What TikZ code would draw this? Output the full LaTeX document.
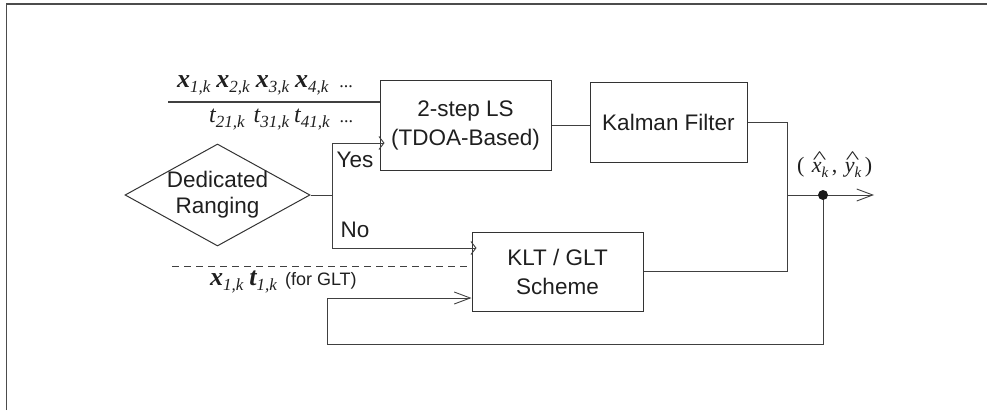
\documentclass[tikz,border=0pt]{standalone}
\usepackage{fontspec}
\setmainfont{Liberation Sans}
\newfontfamily\tms{Liberation Serif}
\usetikzlibrary{arrows.meta,shapes.geometric}
\newcommand{\bsym}[2]{{\tms\bfseries\itshape\fontsize{26}{26}\selectfont #1}\raisebox{-5pt}{\tms\itshape\fontsize{17}{17}\selectfont #2}}
\newcommand{\rsym}[2]{{\tms\itshape\fontsize{24}{24}\selectfont #1}\raisebox{-5pt}{\tms\itshape\fontsize{17}{17}\selectfont #2}}
\newcommand{\tdots}{{\tms\fontsize{18}{18}\selectfont ...}}
\newcommand{\hsym}[1]{\leavevmode\rlap{\raisebox{9pt}{\kern1pt\tms\fontsize{18}{18}\selectfont\scalebox{1.6}[1]{\textasciicircum}}}{\tms\itshape\fontsize{22}{22}\selectfont #1}\raisebox{-5pt}{\tms\itshape\fontsize{15}{15}\selectfont k}}
\begin{document}
\begin{tikzpicture}[x=1pt,y=-1pt,
  every node/.style={text=black!88},
  box/.style={draw=black!80, line width=1pt, inner sep=0pt, align=center,
    font=\fontsize{22.5}{29}\selectfont},
  wire/.style={draw=black!75, line width=1pt},
  inarrow/.style={wire,-{Straight Barb[length=5pt,width=13pt,line width=0.9pt]}},
  openarrow/.style={wire,-{Straight Barb[length=16pt,width=12pt,line width=0.9pt]}},
  lbl/.style={font=\fontsize{22.5}{26}\selectfont, inner sep=0pt, align=center},
  sym/.style={inner sep=0pt, anchor=base west},
]
\useasboundingbox (0,0) rectangle (987,410);
\draw[draw=black!70, line width=1.5pt] (6.5,410) -- (6.5,4) -- (987,4);

% blocks
\node[box, minimum width=171pt, minimum height=90pt] (ls) at (465.5,125) {2-step LS\\(TDOA-Based)};
\node[box, minimum width=157pt, minimum height=80pt] (kf) at (668.5,122) {Kalman Filter};
\node[box, minimum width=171pt, minimum height=79pt] (klt) at (557.5,271.5) {KLT / GLT\\Scheme};
\node[diamond, draw=black!80, line width=1pt, minimum width=185pt, minimum height=102pt, inner sep=0pt] (dr) at (217.5,195) {};
\node[lbl] (drt) at (dr.center) {Dedicated\\Ranging};

% input texts
\node[sym] (row1) at (177,87) {\bsym{x}{1,k}\hspace{6pt}\bsym{x}{2,k}\hspace{6pt}\bsym{x}{3,k}\hspace{6pt}\bsym{x}{4,k}\hspace{11pt}\tdots};
\node[sym] (row2) at (209,122) {\rsym{t}{21,k}\hspace{9pt}\rsym{t}{31,k}\hspace{5pt}\rsym{t}{41,k}\hspace{10pt}\tdots};
\node[sym] (row3) at (210,285) {\bsym{x}{1,k}\hspace{6pt}\bsym{t}{1,k}\hspace{8pt}{\fontsize{18}{18}\selectfont (for GLT)}};

% coordinates
\coordinate (in1) at (168,102);
\coordinate (br) at (332,195);
\coordinate (byes) at (332,143);
\coordinate (bno) at (332,248);
\coordinate (jx) at (787,0);
\coordinate (out) at (874,195);
\coordinate (dot) at (823,195);
\coordinate (fb1) at (823,344);
\coordinate (fb2) at (327,344);
\coordinate (fb3) at (327,298);
\coordinate (d0) at (172,266);

% connectors
\draw[wire, line width=2.2pt] (in1) -- (in1 -| ls.west);
\draw[wire] (dr.east) -- (br);
\draw[wire] (byes) -- (bno);
\draw[inarrow] (byes) -- ([xshift=5pt]ls.west |- byes);
\draw[inarrow] (bno) -- ([xshift=5pt]klt.west |- bno);
\draw[wire] (ls.east) -- (ls.east -| kf.west);
\draw[wire] (kf.east) -| (jx |- klt.east) -- (klt.east);
\draw[openarrow] (jx |- out) -- (out);
\draw[openarrow] (dot) -- (fb1) -- (fb2) -- (fb3) -- (klt.west |- fb3);
\draw[wire, dash pattern=on 7pt off 5pt] (d0) -- (d0 -| klt.west);
\fill[black!90] (dot) circle (5pt);

% labels
\node[lbl] (yes) at (355,160) {Yes};
\node[lbl] (no) at (355,230) {No};
\node[sym] (est) at (797,172) {{\tms\fontsize{22}{22}\selectfont(\,\,}\hsym{x}{\tms\fontsize{22}{22}\selectfont\,,\,\,}\hsym{y}{\tms\fontsize{22}{22}\selectfont\,)}};
\end{tikzpicture}
\end{document}
